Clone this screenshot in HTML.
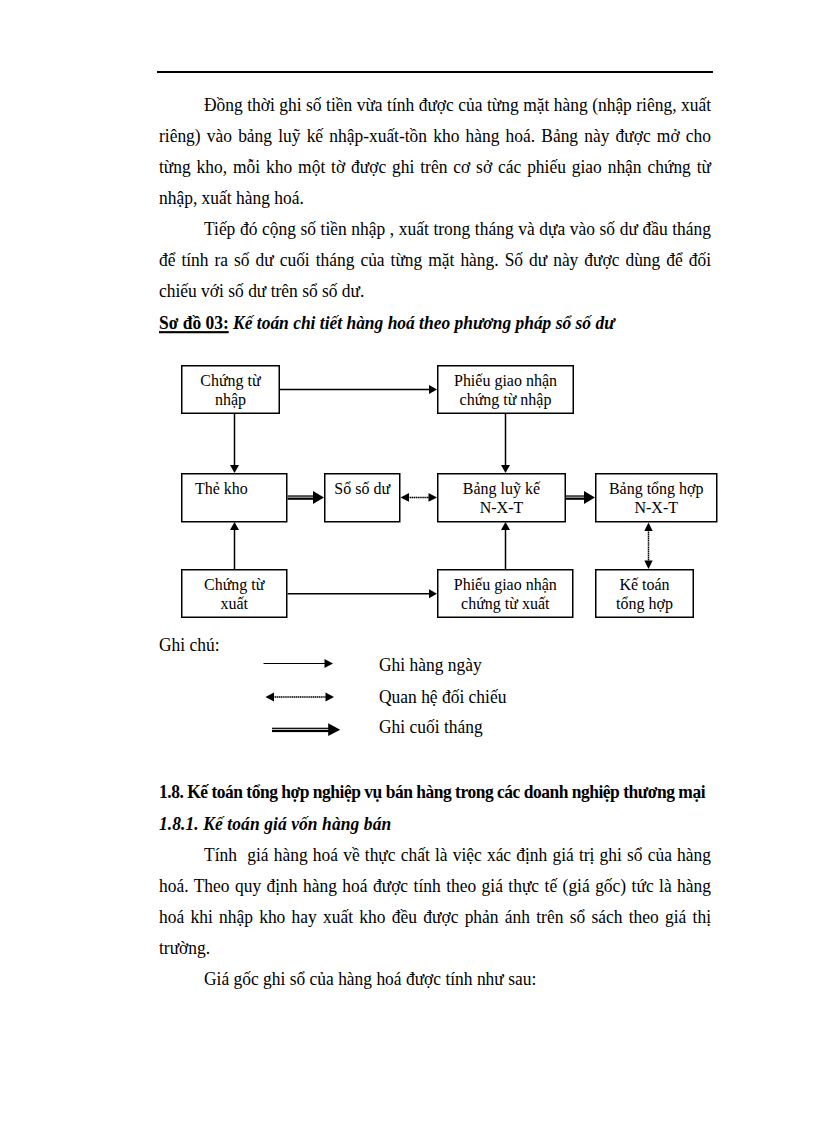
<!DOCTYPE html>
<html><head><meta charset="utf-8"><style>
html,body{margin:0;padding:0;background:#fff;}
body{width:816px;height:1123px;position:relative;overflow:hidden;font-family:"Liberation Serif",serif;color:#000;}
.ln{position:absolute;height:20px;line-height:20px;font-size:17.45px;white-space:nowrap;transform:scaleY(1.06);transform-origin:0 15.85px;}
.rule{position:absolute;left:157px;top:71px;width:556px;height:2.4px;background:#000;}
svg{position:absolute;left:0;top:0;}
.bt{font-family:"Liberation Serif",serif;font-size:16px;fill:#000;}
.h1{letter-spacing:-0.47px;}
u{text-decoration-thickness:2px;text-underline-offset:2px;}
</style></head><body>
<div class="rule"></div>
<div class="ln" style="top:94.75px;left:204px;width:507px;text-align:justify;text-align-last:justify;">Đồng thời ghi số tiền vừa tính được của từng mặt hàng (nhập riêng, xuất</div>
<div class="ln" style="top:125.75px;left:159px;width:552px;text-align:justify;text-align-last:justify;">riêng) vào bảng luỹ kế nhập-xuất-tồn kho hàng hoá. Bảng này được mở cho</div>
<div class="ln" style="top:156.75px;left:159px;width:552px;text-align:justify;text-align-last:justify;">từng kho, mỗi kho một tờ được ghi trên cơ sở các phiếu giao nhận chứng từ</div>
<div class="ln" style="top:187.75px;left:159px;width:552px;text-align:left;">nhập, xuất hàng hoá.</div>
<div class="ln" style="top:218.75px;left:204px;width:507px;text-align:justify;text-align-last:justify;">Tiếp đó cộng số tiền nhập , xuất trong tháng và dựa vào số dư đầu tháng</div>
<div class="ln" style="top:249.75px;left:159px;width:552px;text-align:justify;text-align-last:justify;">để tính ra số dư cuối tháng của từng mặt hàng. Số dư này được dùng để đối</div>
<div class="ln" style="top:280.75px;left:159px;width:552px;text-align:left;">chiếu với số dư trên sổ số dư.</div>
<div class="ln" style="top:312.75px;left:159px;width:552px;text-align:left;"><b><u>Sơ đồ 03:</u></b><b><i> Kế toán chi tiết hàng hoá theo phương pháp sổ số dư</i></b></div>
<div class="ln" style="top:634.75px;left:159px;width:552px;text-align:left;">Ghi chú:</div>
<div class="ln" style="top:654.75px;left:379px;width:332px;text-align:left;">Ghi hàng ngày</div>
<div class="ln" style="top:686.75px;left:379px;width:332px;text-align:left;">Quan hệ đối chiếu</div>
<div class="ln" style="top:716.75px;left:379px;width:332px;text-align:left;">Ghi cuối tháng</div>
<div class="ln" style="top:781.75px;left:159px;width:552px;text-align:left;"><b class="h1">1.8. Kế toán tổng hợp nghiệp vụ bán hàng trong các doanh nghiệp thương mại</b></div>
<div class="ln" style="top:813.75px;left:159px;width:552px;text-align:left;"><b><i style="letter-spacing:0.1px">1.8.1. Kế toán giá vốn hàng bán</i></b></div>
<div class="ln" style="top:844.75px;left:204px;width:507px;text-align:justify;text-align-last:justify;">Tính&nbsp; giá hàng hoá về thực chất là việc xác định giá trị ghi sổ của hàng</div>
<div class="ln" style="top:875.75px;left:159px;width:552px;text-align:justify;text-align-last:justify;">hoá. Theo quy định hàng hoá được tính theo giá thực tế (giá gốc) tức là hàng</div>
<div class="ln" style="top:906.75px;left:159px;width:552px;text-align:justify;text-align-last:justify;">hoá khi nhập kho hay xuất kho đều được phản ánh trên sổ sách theo giá thị</div>
<div class="ln" style="top:937.75px;left:159px;width:552px;text-align:left;">trường.</div>
<div class="ln" style="top:968.75px;left:204px;width:507px;text-align:left;">Giá gốc ghi sổ của hàng hoá được tính như sau:</div>
<svg width="816" height="1123" viewBox="0 0 816 1123">
<rect x="181.75" y="365.75" width="97.5" height="47.5" fill="none" stroke="#000" stroke-width="1.5"/>
<text x="230.5" y="385.7" class="bt" text-anchor="middle" transform="translate(0 385.7) scale(1 1.06) translate(0 -385.7)">Chứng từ</text>
<text x="230.5" y="404.7" class="bt" text-anchor="middle" transform="translate(0 404.7) scale(1 1.06) translate(0 -404.7)">nhập</text>
<rect x="437.75" y="365.75" width="135.5" height="47.5" fill="none" stroke="#000" stroke-width="1.5"/>
<text x="505.5" y="385.7" class="bt" text-anchor="middle" transform="translate(0 385.7) scale(1 1.06) translate(0 -385.7)">Phiếu giao nhận</text>
<text x="505.5" y="404.7" class="bt" text-anchor="middle" transform="translate(0 404.7) scale(1 1.06) translate(0 -404.7)">chứng từ nhập</text>
<rect x="181.75" y="473.75" width="105.0" height="48.0" fill="none" stroke="#000" stroke-width="1.5"/>
<text x="195" y="494" class="bt" transform="translate(0 494) scale(1 1.06) translate(0 -494)">Thẻ kho</text>
<rect x="324.75" y="473.75" width="75.0" height="48.0" fill="none" stroke="#000" stroke-width="1.5"/>
<text x="362.25" y="494" class="bt" text-anchor="middle" transform="translate(0 494) scale(1 1.06) translate(0 -494)">Sổ số dư</text>
<rect x="437.75" y="473.75" width="127.5" height="48.0" fill="none" stroke="#000" stroke-width="1.5"/>
<text x="501.5" y="493.7" class="bt" text-anchor="middle" transform="translate(0 493.7) scale(1 1.06) translate(0 -493.7)">Bảng luỹ kế</text>
<text x="501.5" y="512.7" class="bt" text-anchor="middle" transform="translate(0 512.7) scale(1 1.06) translate(0 -512.7)">N-X-T</text>
<rect x="595.75" y="473.75" width="121.0" height="48.0" fill="none" stroke="#000" stroke-width="1.5"/>
<text x="656.25" y="493.7" class="bt" text-anchor="middle" transform="translate(0 493.7) scale(1 1.06) translate(0 -493.7)">Bảng tổng hợp</text>
<text x="656.25" y="512.7" class="bt" text-anchor="middle" transform="translate(0 512.7) scale(1 1.06) translate(0 -512.7)">N-X-T</text>
<rect x="181.75" y="569.75" width="105.0" height="47.5" fill="none" stroke="#000" stroke-width="1.5"/>
<text x="234.25" y="589.7" class="bt" text-anchor="middle" transform="translate(0 589.7) scale(1 1.06) translate(0 -589.7)">Chứng từ</text>
<text x="234.25" y="608.7" class="bt" text-anchor="middle" transform="translate(0 608.7) scale(1 1.06) translate(0 -608.7)">xuất</text>
<rect x="437.75" y="569.75" width="135.0" height="47.5" fill="none" stroke="#000" stroke-width="1.5"/>
<text x="505.25" y="589.7" class="bt" text-anchor="middle" transform="translate(0 589.7) scale(1 1.06) translate(0 -589.7)">Phiếu giao nhận</text>
<text x="505.25" y="608.7" class="bt" text-anchor="middle" transform="translate(0 608.7) scale(1 1.06) translate(0 -608.7)">chứng từ xuất</text>
<rect x="595.75" y="569.75" width="97.5" height="47.5" fill="none" stroke="#000" stroke-width="1.5"/>
<text x="644.5" y="589.7" class="bt" text-anchor="middle" transform="translate(0 589.7) scale(1 1.06) translate(0 -589.7)">Kế toán</text>
<text x="644.5" y="608.7" class="bt" text-anchor="middle" transform="translate(0 608.7) scale(1 1.06) translate(0 -608.7)">tổng hợp</text>
<line x1="280" y1="389.5" x2="431" y2="389.5" stroke="#000" stroke-width="1.5"/><polygon points="437,389.5 429,385 429,394" fill="#000"/>
<line x1="234.5" y1="414" x2="234.5" y2="467" stroke="#000" stroke-width="1.5"/><polygon points="234.5,473 230,465 239,465" fill="#000"/>
<line x1="234.5" y1="569" x2="234.5" y2="528" stroke="#000" stroke-width="1.5"/><polygon points="234.5,522 230,530 239,530" fill="#000"/>
<line x1="287.5" y1="593.8" x2="431" y2="593.8" stroke="#000" stroke-width="1.5"/><polygon points="437,593.8 429,589.3 429,598.3" fill="#000"/>
<line x1="505.5" y1="414" x2="505.5" y2="467" stroke="#000" stroke-width="1.5"/><polygon points="505.5,473 501,465 510,465" fill="#000"/>
<line x1="505.5" y1="569" x2="505.5" y2="528" stroke="#000" stroke-width="1.5"/><polygon points="505.5,522 501,530 510,530" fill="#000"/>
<rect x="287.5" y="495.4" width="26.5" height="4.4" fill="#000"/><rect x="287.5" y="496.6" width="26.5" height="1.1" fill="#c4c4c4"/><polygon points="324,497.4 313,490.9 313,503.9" fill="#000"/>
<line x1="408.0" y1="497.4" x2="429.5" y2="497.4" stroke="#000" stroke-width="1.5" stroke-dasharray="1.4 0.5"/><polygon points="400.5,497.4 409,493 409,501.8" fill="#000"/><polygon points="437,497.4 428.5,493 428.5,501.8" fill="#000"/>
<rect x="566" y="495.4" width="19" height="4.4" fill="#000"/><rect x="566" y="496.6" width="19" height="1.1" fill="#c4c4c4"/><polygon points="595,497.4 584,490.9 584,503.9" fill="#000"/>
<line x1="648.5" y1="530.0" x2="648.5" y2="561.5" stroke="#000" stroke-width="1.5" stroke-dasharray="1.4 0.5"/><polygon points="648.5,522.5 644.3,531 652.7,531" fill="#000"/><polygon points="648.5,569 644.3,560.5 652.7,560.5" fill="#000"/>
<line x1="263.5" y1="663.5" x2="327" y2="663.5" stroke="#000" stroke-width="1.2"/><polygon points="333,663.5 324.5,659 324.5,668" fill="#000"/>
<line x1="273.0" y1="697.1" x2="326.5" y2="697.1" stroke="#000" stroke-width="1.5" stroke-dasharray="1.4 0.5"/><polygon points="265.5,697.1 274,692.6 274,701.6" fill="#000"/><polygon points="334,697.1 325.5,692.6 325.5,701.6" fill="#000"/>
<rect x="272" y="727.7" width="57.2" height="4.4" fill="#000"/><rect x="272" y="728.9" width="57.2" height="1.1" fill="#c4c4c4"/><polygon points="340.2,729.7 328.2,723.3 328.2,736.1" fill="#000"/>
</svg>
</body></html>
